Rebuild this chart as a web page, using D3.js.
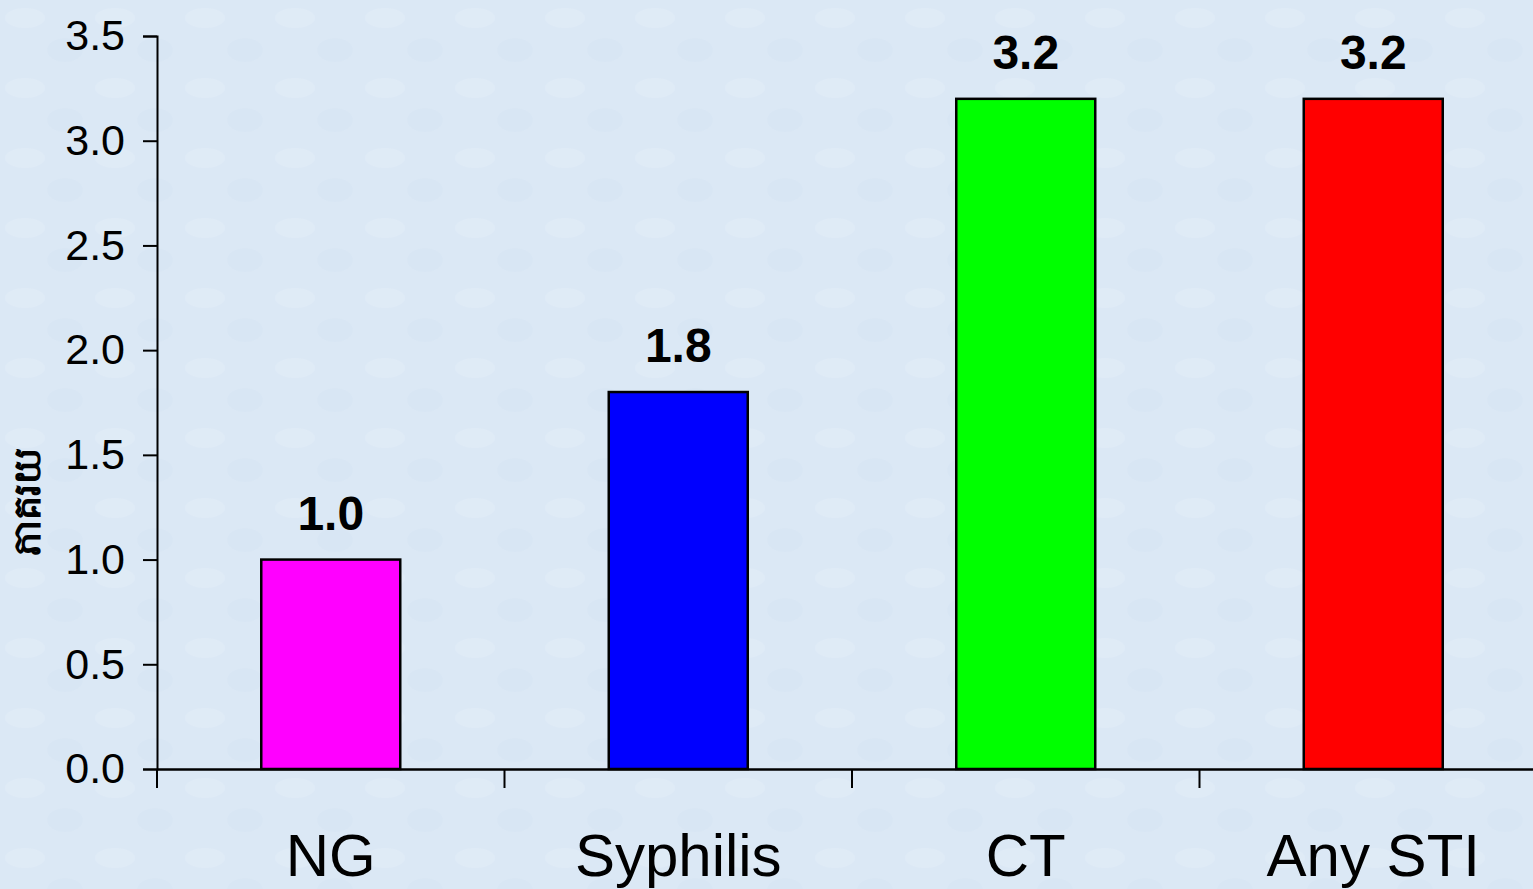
<!DOCTYPE html>
<html><head><meta charset="utf-8">
<script src="https://cdn.jsdelivr.net/npm/d3@7"></script>
<style>
html,body{margin:0;padding:0;background:#dce9f6;}
svg{display:block;font-family:"Liberation Sans",Arial,sans-serif;}
</style></head>
<body>
<svg id="chart" width="1533" height="889"></svg>
<script>
const categories = ["NG", "Syphilis", "CT", "Any STI"];
const values = [1.0, 1.8, 3.2, 3.2];
const barColors = ["#ff00ff", "#0000ff", "#00ff00", "#ff0000"];
const yTicks = [0, 0.5, 1.0, 1.5, 2.0, 2.5, 3.0, 3.5];
const yLabel = "ភាគរយ";

const svg = d3.select("#chart");
const W = 1533, H = 889;

// background with subtle texture
const defs = svg.append("defs");
const pat = defs.append("pattern").attr("id","tex").attr("width",90).attr("height",70).attr("patternUnits","userSpaceOnUse");
pat.append("rect").attr("width",90).attr("height",70).attr("fill","#dbe8f5");
pat.append("ellipse").attr("cx",25).attr("cy",18).attr("rx",20).attr("ry",10).attr("fill","#e3edf8").attr("opacity",0.5);
pat.append("ellipse").attr("cx",65).attr("cy",50).attr("rx",18).attr("ry",12).attr("fill","#d4e3f2").attr("opacity",0.4);
svg.append("rect").attr("width",W).attr("height",H).attr("fill","url(#tex)");

const x0 = 157, y0 = 769, yTop = 36;
const step = 347.5;
const x = d3.scaleBand().domain(categories).range([x0, x0 + step*categories.length]).padding(0);
const y = d3.scaleLinear().domain([0, 3.5]).range([y0, yTop]);

// y axis
const yAxis = d3.axisLeft(y).tickValues(yTicks).tickFormat(d3.format(".1f")).tickSize(14).tickSizeOuter(14);
const gy = svg.append("g").attr("transform", `translate(${x0},0)`).call(yAxis);
gy.select(".domain").attr("stroke","#000").attr("stroke-width",2);
gy.selectAll(".tick line").attr("stroke","#000").attr("stroke-width",2);
gy.selectAll(".tick text").attr("x",-32).attr("font-size",43).attr("fill","#000")
  .attr("font-family","Liberation Sans, Arial, sans-serif");

// x axis
const xAxis = d3.axisBottom(x).tickSize(0).tickFormat("");
const gx = svg.append("g").attr("transform", `translate(0,${y0})`).call(xAxis);
gx.select(".domain").attr("stroke","#000").attr("stroke-width",2.5);
// boundary ticks
const bounds = d3.range(categories.length+1).map(i => x0 + i*x.step());
gx.selectAll(".bt").data(bounds).join("line").attr("class","bt")
  .attr("x1",d=>d).attr("x2",d=>d).attr("y1",0).attr("y2",19)
  .attr("stroke","#000").attr("stroke-width",2);

// bars
const bw = x.bandwidth()*0.4;
svg.selectAll(".bar").data(categories).join("rect").attr("class","bar")
  .attr("x", d => x(d) + x.bandwidth()/2 - bw/2)
  .attr("y", (d,i) => y(values[i]))
  .attr("width", bw)
  .attr("height", (d,i) => y(0) - y(values[i]))
  .attr("fill", (d,i) => barColors[i])
  .attr("stroke","#000").attr("stroke-width",2.5);

// value labels
svg.selectAll(".val").data(categories).join("text").attr("class","val")
  .attr("x", d => x(d) + x.bandwidth()/2)
  .attr("y", (d,i) => y(values[i]) - 30)
  .attr("text-anchor","middle").attr("font-size",48).attr("font-weight","bold").attr("fill","#000")
  .text((d,i) => d3.format(".1f")(values[i]));

// category labels
svg.selectAll(".cat").data(categories).join("text").attr("class","cat")
  .attr("x", d => x(d) + x.bandwidth()/2)
  .attr("y", 876)
  .attr("text-anchor","middle").attr("font-size",60).attr("fill","#000")
  .text(d => d);

// y label
svg.append("text").attr("transform","translate(40,502) rotate(-90)")
  .attr("text-anchor","middle").attr("font-size",38).attr("font-weight","bold").attr("fill","#000")
  .text(yLabel);
</script>
</body></html>
